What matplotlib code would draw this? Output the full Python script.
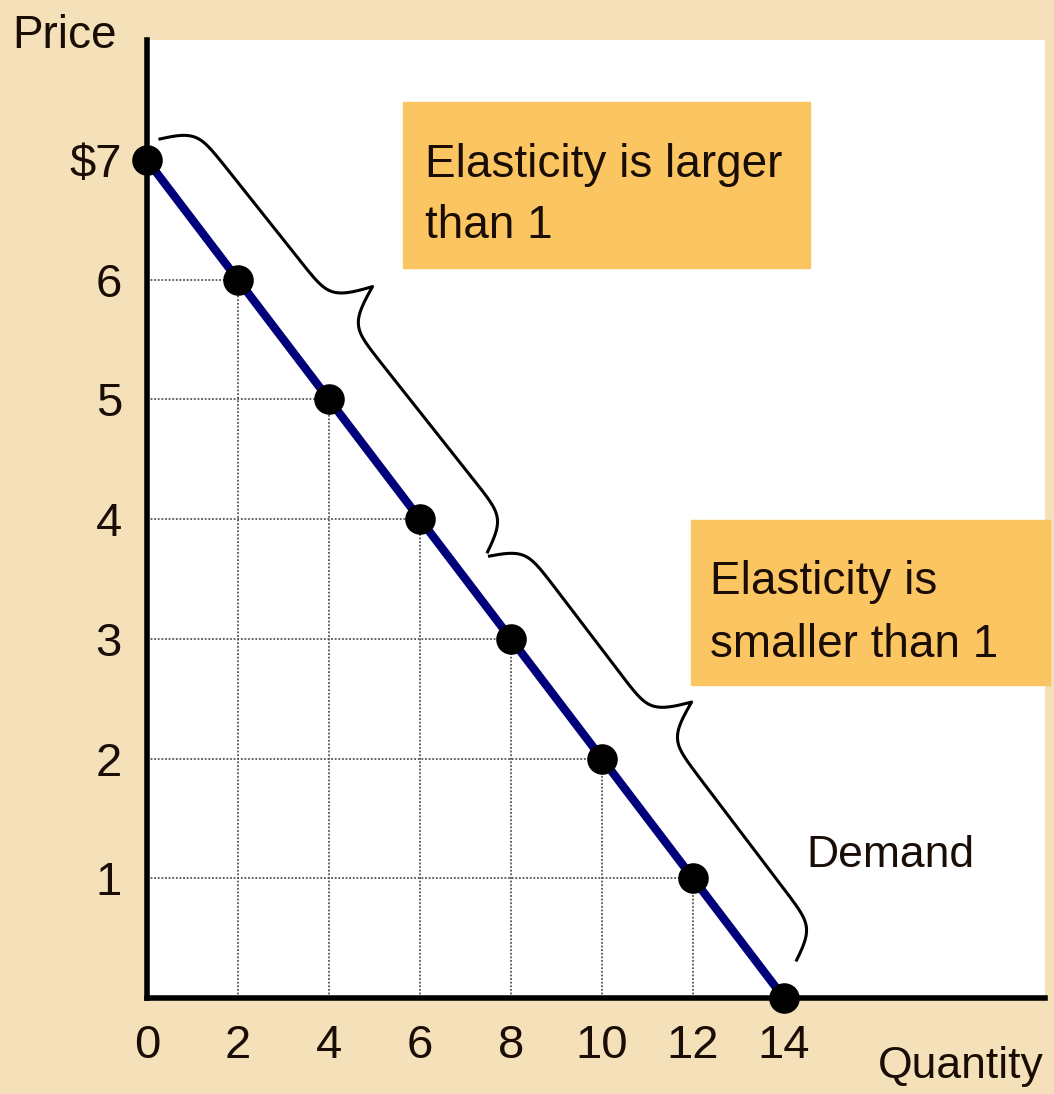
import numpy as np
import matplotlib.pyplot as plt
from matplotlib.patches import Rectangle

# demand schedule
quantity = [0, 2, 4, 6, 8, 10, 12, 14]
price = [7, 6, 5, 4, 3, 2, 1, 0]
x_ticks = [0, 2, 4, 6, 8, 10, 12, 14]
x_labels = ['0', '2', '4', '6', '8', '10', '12', '14']
y_ticks = [1, 2, 3, 4, 5, 6, 7]
y_labels = ['1', '2', '3', '4', '5', '6', '$7']
box_texts = ['Elasticity is larger\nthan 1', 'Elasticity is\nsmaller than 1']

W, H = 1054, 1094
bg = '#f4e1b9'
box_col = '#fbc562'
txt_col = '#1a0d05'
plt.rcParams['font.family'] = ['Liberation Sans', 'DejaVu Sans']

fig = plt.figure(figsize=(W / 100, H / 100), dpi=100, facecolor=bg)
ax = fig.add_axes([147 / W, (H - 998) / H, (1045 - 147) / W, (998 - 40) / H])
ax.set_facecolor('white')
ax.set_xlim(0, (1045 - 147) / 45.5)
ax.set_ylim(0, (998 - 40) / 119.7)

for s in ['top', 'right']:
    ax.spines[s].set_visible(False)
for s in ['left', 'bottom']:
    ax.spines[s].set_linewidth(4)
    ax.spines[s].set_color('black')

ax.set_xticks(x_ticks, x_labels)
ax.set_yticks(y_ticks, y_labels)
ax.tick_params(length=0, labelsize=34, labelcolor=txt_col)
ax.tick_params(axis='x', pad=19)
ax.tick_params(axis='y', pad=18)

# staircase grid (only under the demand curve)
for q, p in zip(quantity, price):
    if q > 0 and p > 0:
        ax.plot([q, q], [0, p], color='#555555', lw=1.3, ls=(0, (1, 1)), zorder=1)
        ax.plot([0, q], [p, p], color='#555555', lw=1.3, ls=(0, (1, 1)), zorder=1)

ax.plot(quantity, price, color='#00007a', lw=6, zorder=3, solid_capstyle='butt')
ax.plot(quantity, price, 'o', color='black', ms=21, zorder=4, clip_on=False)


# curly braces, drawn in pixel space then mapped back to data
def brace(q0, q1, h, tip=0.5, c=1.2, beta=0.12):
    p0 = np.array(ax.transData.transform((q0, np.interp(q0, quantity, price))))
    p1 = np.array(ax.transData.transform((q1, np.interp(q1, quantity, price))))
    d = p1 - p0
    L = np.hypot(*d)
    u = d / L
    n = np.array([-u[1], u[0]])
    m = L * tip
    a = np.linspace(0, m, 200)
    b = np.linspace(m, L, 200)
    ya = 1 / (1 + np.exp(-beta * a)) + c / (1 + np.exp(-beta * (a - m)))
    yb = c / (1 + np.exp(beta * (b - m))) + 1 / (1 + np.exp(beta * (b - L)))
    s = np.concatenate([a, b])
    y = np.concatenate([ya, yb]) * h
    pts = p0 + np.outer(s, u) + np.outer(y, n)
    dat = ax.transData.inverted().transform(pts)
    ax.plot(dat[:, 0], dat[:, 1], color='black', lw=2.2, zorder=2, clip_on=False)


brace(-0.3, 6.9, 68, tip=0.47)
brace(6.95, 13.7, 66, tip=0.47)

# text boxes
fig.add_artist(Rectangle((403 / W, 1 - 268 / H), (810 - 403) / W, (268 - 102) / H,
                         transform=fig.transFigure, color=box_col, zorder=5))
fig.add_artist(Rectangle((691 / W, 1 - 685 / H), (1050 - 691) / W, (685 - 520) / H,
                         transform=fig.transFigure, color=box_col, zorder=5))
fig.text(425 / W, 1 - 238 / H, box_texts[0], fontsize=33, color=txt_col,
         va='baseline', ha='left', linespacing=1.5, zorder=6)
fig.text(710 / W, 1 - 657 / H, box_texts[1], fontsize=33, color=txt_col,
         va='baseline', ha='left', linespacing=1.55, zorder=6)

fig.text(806 / W, 1 - 867 / H, 'Demand', fontsize=32, color=txt_col, va='baseline')
fig.text(12 / W, 1 - 48 / H, 'Price', fontsize=33, color=txt_col, va='baseline')
fig.text(878 / W, 1 - 1078 / H, 'Quantity', fontsize=32, color=txt_col, va='baseline')

fig.savefig('out.png', dpi=100, facecolor=bg)
